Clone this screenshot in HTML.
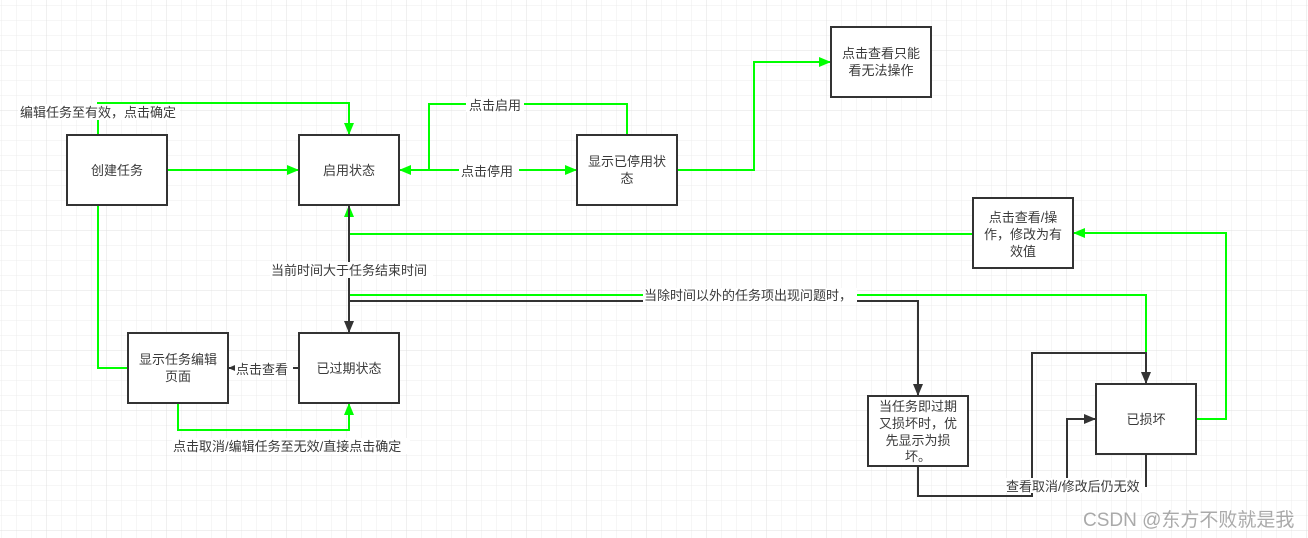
<!DOCTYPE html>
<html><head><meta charset="utf-8"><style>
html,body{margin:0;padding:0;background:#fff;}
svg{display:block;}
text{font-family:"Liberation Sans","Noto Sans CJK SC",sans-serif;font-size:13px;fill:#3a3a3a;}
</style></head><body>
<svg width="1308" height="538" xmlns="http://www.w3.org/2000/svg">
<defs>
<pattern id="g" x="1" y="5" width="15" height="15" patternUnits="userSpaceOnUse"><path d="M0 0H15M0 0V15" stroke="#ececec" stroke-width="1" fill="none"/></pattern>
<pattern id="G" x="46" y="50" width="60" height="60" patternUnits="userSpaceOnUse"><path d="M0 0H60M0 0V60" stroke="#e0e0e0" stroke-width="1" fill="none"/></pattern>
<marker id="ag" markerWidth="12" markerHeight="10" refX="11" refY="5" orient="auto" markerUnits="userSpaceOnUse"><path d="M0 0L12 5L0 10Z" fill="#00ff00"/></marker>
<marker id="ad" markerWidth="12" markerHeight="10" refX="11" refY="5" orient="auto" markerUnits="userSpaceOnUse"><path d="M0 0L12 5L0 10Z" fill="#333"/></marker>
</defs>
<rect width="1308" height="538" fill="url(#g)"/>
<rect width="1308" height="538" fill="url(#G)"/>
<g fill="none" stroke-width="2">
<path d="M167 170H298" stroke="#00ff00" marker-end="url(#ag)"/>
<path d="M128 368H98V103H349V134" stroke="#00ff00" marker-end="url(#ag)"/>
<path d="M429 170H576" stroke="#00ff00" marker-end="url(#ag)"/>
<path d="M627 135V104H429V170H400" stroke="#00ff00" marker-end="url(#ag)"/>
<path d="M677 170H754V62H830" stroke="#00ff00" marker-end="url(#ag)"/>
<path d="M973 234H349V206" stroke="#00ff00" marker-end="url(#ag)"/>
<path d="M349 295H1146V353" stroke="#00ff00"/>
<path d="M1196 419H1226V233H1074" stroke="#00ff00" marker-end="url(#ag)"/>
<path d="M178 403V430H349V404" stroke="#00ff00" marker-end="url(#ag)"/>
<path d="M349 206V332" stroke="#333" marker-end="url(#ad)"/>
<path d="M349 301H918V395" stroke="#333" marker-end="url(#ad)"/>
<path d="M918 466V496H1032V353H1146V383" stroke="#333" marker-end="url(#ad)"/>
<path d="M1146 454V487M1067 487V419H1095" stroke="#333" marker-end="url(#ad)"/>
<path d="M299 368H229" stroke="#333" marker-end="url(#ad)"/>
</g>
<g fill="#fff" stroke="#333" stroke-width="2">
<rect x="67" y="135" width="100" height="70"/>
<rect x="299" y="135" width="100" height="70"/>
<rect x="577" y="135" width="100" height="70"/>
<rect x="831" y="27" width="100" height="70"/>
<rect x="973" y="198" width="100" height="70"/>
<rect x="128" y="333" width="100" height="70"/>
<rect x="299" y="333" width="100" height="70"/>
<rect x="868" y="396" width="100" height="70"/>
<rect x="1096" y="384" width="100" height="70"/>
</g>
<g text-anchor="middle">
<text x="117" y="175">创建任务</text>
<text x="349" y="175">启用状态</text>
<text x="627" y="166">显示已停用状</text><text x="627" y="183">态</text>
<text x="881" y="58">点击查看只能</text><text x="881" y="75">看无法操作</text>
<text x="1023" y="222">点击查看/操</text><text x="1023" y="239">作，修改为有</text><text x="1023" y="256">效值</text>
<text x="178" y="364">显示任务编辑</text><text x="178" y="381">页面</text>
<text x="349" y="373">已过期状态</text>
<text x="918" y="411">当任务即过期</text><text x="918" y="428">又损坏时，优</text><text x="918" y="445">先显示为损</text><text x="918" y="461">坏。</text>
<text x="1146" y="424">已损坏</text>
</g>
<g>
<rect x="18" y="104" width="162" height="16" fill="#fff"/><text x="20" y="117">编辑任务至有效，点击确定</text>
<rect x="466" y="97" width="58" height="15" fill="#fff"/><text x="469" y="110">点击启用</text>
<rect x="459" y="163" width="60" height="15" fill="#fff"/><text x="461" y="176">点击停用</text>
<rect x="270" y="262" width="163" height="16" fill="#fff"/><text x="271" y="275">当前时间大于任务结束时间</text>
<rect x="643" y="288" width="214" height="14" fill="#fff"/><text x="644" y="300">当除时间以外的任务项出现问题时，</text>
<rect x="235" y="361" width="58" height="15" fill="#fff"/><text x="236" y="374">点击查看</text>
<rect x="172" y="438" width="238" height="16" fill="#fff"/><text x="173" y="451">点击取消/编辑任务至无效/直接点击确定</text>
<rect x="1005" y="478" width="140" height="15" fill="#fff"/><text x="1006" y="491">查看取消/修改后仍无效</text>
</g>
<text x="1083" y="526" style="font-size:19px;fill:#aaa;">CSDN @东方不败就是我</text>
</svg>
</body></html>
